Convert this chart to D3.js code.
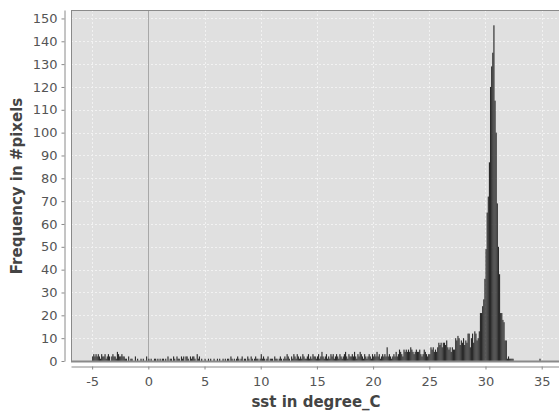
<!DOCTYPE html>
<html>
<head>
<meta charset="utf-8">
<script src="https://cdn.jsdelivr.net/npm/d3@7"></script>
<style>
  body { margin: 0; background: #fff; }
  text { font-family: "DejaVu Sans", sans-serif; }
</style>
</head>
<body>
<script>
// histogram bins: lower edge of first bin and bin width (degree_C)
var binStart = -5.0;
var binWidth = 0.1;

// counts per bin, one line per degree
var counts = [
  2,3,2,3,2,3,2,1,3,2,      // -5
  2,3,1,2,3,2,0,2,3,2,      // -4
  2,1,4,3,2,2,3,2,2,1,      // -3
  1,0,2,0,1,1,0,0,2,0,      // -2
  1,0,0,1,0,1,0,0,2,0,      // -1
  1,0,1,0,0,1,1,0,1,0,      // 0
  1,0,1,1,0,1,0,2,0,1,      // 1
  1,0,2,1,0,2,1,1,0,2,      // 2
  1,2,0,2,2,1,0,2,1,2,      // 3
  2,1,0,3,1,2,0,1,0,0,      // 4
  1,0,0,1,0,1,0,0,1,0,      // 5
  0,1,0,1,0,0,1,0,1,0,      // 6
  1,1,0,2,1,0,1,0,1,2,      // 7
  1,0,1,2,0,1,1,0,2,1,      // 8
  0,2,1,0,1,2,1,1,0,1,      // 9
  3,1,2,1,0,1,2,0,1,1,      // 10
  1,0,2,1,1,0,1,2,1,0,      // 11
  1,2,1,3,2,1,0,2,1,3,      // 12
  2,1,3,2,1,2,1,3,2,1,      // 13
  1,2,3,1,2,1,3,2,2,1,      // 14
  2,3,1,2,4,2,1,2,3,1,      // 15
  2,1,3,2,3,1,2,3,2,1,      // 16
  3,2,1,2,3,4,2,1,3,2,      // 17
  2,3,2,4,2,1,3,2,4,3,      // 18
  2,1,3,2,1,2,3,2,1,3,      // 19
  2,3,2,4,2,3,1,2,3,2,      // 20
  3,2,6,2,3,2,1,2,3,2,      // 21
  4,2,3,5,4,3,2,5,4,5,      // 22
  4,5,4,6,5,4,3,4,5,4,      // 23
  4,5,3,2,3,5,4,3,2,3,      // 24
  3,6,5,6,4,5,4,6,8,7,      // 25
  8,6,8,8,7,9,6,5,6,4,      // 26
  6,5,5,10,9,11,10,7,9,8,   // 27
  10,7,9,8,12,12,6,10,12,8, // 28
  13,12,9,10,13,21,21,24,27,36,        // 29
  49,65,72,87,120,129,135,147,114,100, // 30
  69,50,38,21,21,18,17,9,9,1,          // 31
  2,1,1,1,1                             // 32
];

// isolated bins far from the rest
var strayEdges = [34.8];
var strayCounts = [1];

var xTicks = [-5, 0, 5, 10, 15, 20, 25, 30, 35];
var yTicks = [0, 10, 20, 30, 40, 50, 60, 70, 80, 90, 100, 110, 120, 130, 140, 150];

var xTitle = "sst in degree_C";
var yTitle = "Frequency in #pixels";

(function() {

  var bins = counts.map(function(c, i) {
    return { x0: binStart + i * binWidth, n: c };
  });
  strayEdges.forEach(function(e, i) {
    bins.push({ x0: e, n: strayCounts[i] });
  });

  var pLeft = 71, pRight = 559, pTop = 10, pBottom = 361;

  var x = d3.scaleLinear().domain([-6.88, 36.54]).range([pLeft, pRight]);
  var y = d3.scaleLinear().domain([0, 153.7]).range([pBottom, pTop]);

  var svg = d3.select("body").append("svg")
              .attr("width", 559)
              .attr("height", 414);

  // plot background
  svg.append("rect")
     .attr("x", pLeft).attr("y", pTop)
     .attr("width", pRight - pLeft).attr("height", pBottom - pTop)
     .style("fill", "#e0e0e0");

  // dashed grid
  svg.selectAll("line.vgrid")
     .data(xTicks.filter(function(d) { return d !== 0; }))
     .enter().append("line")
     .attr("x1", function(d) { return Math.round(x(d)) + 0.5; })
     .attr("x2", function(d) { return Math.round(x(d)) + 0.5; })
     .attr("y1", pTop).attr("y2", pBottom)
     .style("stroke", "#f2f2f2")
     .style("stroke-dasharray", "2,2");

  svg.selectAll("line.hgrid")
     .data(yTicks.filter(function(d) { return d !== 0; }))
     .enter().append("line")
     .attr("x1", pLeft).attr("x2", pRight)
     .attr("y1", function(d) { return Math.round(y(d)) + 0.5; })
     .attr("y2", function(d) { return Math.round(y(d)) + 0.5; })
     .style("stroke", "#f2f2f2")
     .style("stroke-dasharray", "2,2");

  // zero marker
  svg.append("line")
     .attr("x1", Math.round(x(0)) + 0.5).attr("x2", Math.round(x(0)) + 0.5)
     .attr("y1", pTop).attr("y2", pBottom)
     .style("stroke", "#a8a8a8");

  // bars
  svg.selectAll("rect.bar")
     .data(bins.filter(function(d) { return d.n > 0; }))
     .enter().append("rect")
     .attr("x", function(d) { return x(d.x0); })
     .attr("width", function(d) { return x(d.x0 + binWidth) - x(d.x0); })
     .attr("y", function(d) { return y(d.n); })
     .attr("height", function(d) { return pBottom - y(d.n); })
     .style("fill", "#2a2a2a");

  // plot frame
  svg.append("line")
     .attr("x1", pLeft).attr("x2", pRight).attr("y1", pTop + 0.5).attr("y2", pTop + 0.5)
     .style("stroke", "#8a8a8a");
  svg.append("line")
     .attr("x1", pLeft + 0.5).attr("x2", pLeft + 0.5).attr("y1", pTop).attr("y2", pBottom)
     .style("stroke", "#8a8a8a");
  svg.append("line")
     .attr("x1", pLeft).attr("x2", pRight).attr("y1", pBottom + 0.5).attr("y2", pBottom + 0.5)
     .style("stroke", "#8a8a8a")
     .style("stroke-width", 2);

  var fmt = function(d) { return String(d); };

  // axes
  var yAxis = svg.append("g")
     .attr("transform", "translate(64.5,0)")
     .call(d3.axisLeft(y).tickValues(yTicks).tickFormat(fmt)
             .tickSize(3).tickSizeOuter(0).tickPadding(4));

  var xAxis = svg.append("g")
     .attr("transform", "translate(0,366.5)")
     .call(d3.axisBottom(x).tickValues(xTicks).tickFormat(fmt)
             .tickSize(3).tickSizeOuter(0).tickPadding(7));

  [yAxis, xAxis].forEach(function(g) {
    g.select(".domain").style("stroke", "#8a8a8a");
    g.selectAll(".tick line").style("stroke", "#8a8a8a");
    g.selectAll(".tick text")
     .style("fill", "#555")
     .style("font-size", "13px")
     .style("font-family", "DejaVu Sans, sans-serif");
  });

  // titles
  svg.append("text")
     .attr("x", 316).attr("y", 407)
     .attr("text-anchor", "middle")
     .style("font-size", "15px")
     .style("font-weight", "bold")
     .style("fill", "#444")
     .text(xTitle);

  svg.append("text")
     .attr("transform", "translate(22,186) rotate(-90)")
     .attr("text-anchor", "middle")
     .style("font-size", "15px")
     .style("font-weight", "bold")
     .style("fill", "#444")
     .text(yTitle);

})();
</script>
</body>
</html>
